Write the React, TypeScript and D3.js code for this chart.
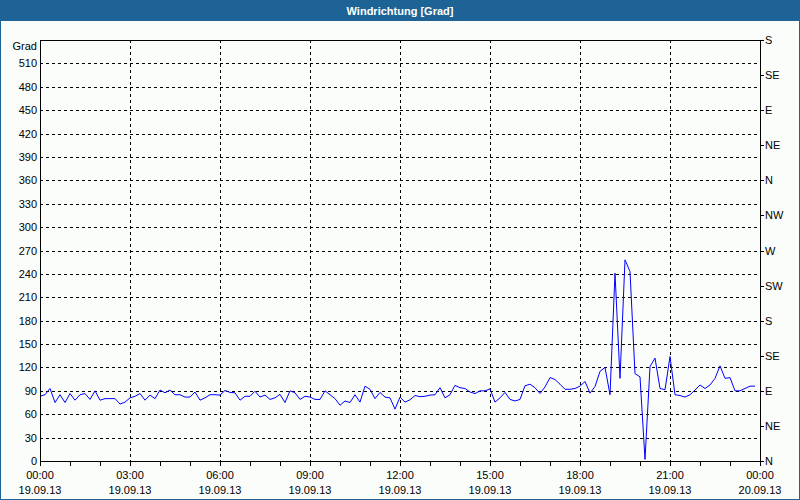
import React from "react";
import * as d3 from "d3";

const title = "Windrichtung [Grad]";
const yUnit = "Grad";
const startTime = new Date(2013, 8, 19, 0, 0);
const endTime = new Date(2013, 8, 20, 0, 0);
const stepMinutes = 10;
// wind direction values every 10 minutes from 19.09.13 00:00
const windDir: number[] = [
  83, 85, 93, 75, 85, 75, 86.5, 78, 85, 86.5,
  79, 90, 78, 80, 80, 80, 73, 75.5, 81, 83,
  86.5, 78, 84.5, 80, 91, 87.5, 91, 85, 85, 82,
  82, 88.5, 78, 81, 85, 85, 84.5, 90.5, 88, 87.5,
  78, 83, 83, 89.5, 82, 84.5, 79, 81, 85.5, 75,
  90, 87.5, 79, 83, 82, 79, 79, 90, 85, 80,
  71.5, 77, 75, 85, 75.5, 96, 92, 80, 88, 82,
  81, 66.5, 82, 75.5, 78.5, 84, 82.5, 83, 84.5, 85,
  94, 81, 85, 97, 94, 93, 88.5, 86.5, 90, 90,
  92.5, 75.5, 81, 88, 79, 77, 79, 96.5, 98.5, 94,
  86.5, 95, 107, 104.5, 98.5, 92, 92, 93, 96, 102,
  87, 95.5, 115, 120, 85, 241, 106, 258, 243, 112,
  108, 2, 121, 132, 93, 91.5, 134, 85, 84, 82,
  85, 91, 97.5, 93, 97.5, 106, 122, 106, 107, 90,
  90, 93, 96, 96,
];
const leftTicks: number[] = [0, 30, 60, 90, 120, 150, 180, 210, 240, 270, 300, 330, 360, 390, 420, 450, 480, 510];
const rightTicks: number[] = [0, 45, 90, 135, 180, 225, 270, 315, 360, 405, 450, 495, 540];
const rightLabels: string[] = ["N", "NE", "E", "SE", "S", "SW", "W", "NW", "N", "NE", "E", "SE", "S"];

const W = 800;
const H = 500;
const M = { left: 40, right: 760, top: 40, bottom: 461 };
const FONT = "'Liberation Sans', Arial, sans-serif";

export default function App() {
  const x = d3.scaleTime().domain([startTime, endTime]).range([M.left, M.right]);
  const y = d3.scaleLinear().domain([0, 540]).range([M.bottom, M.top]);
  const data = windDir.map((v, i) => ({
    t: new Date(startTime.getTime() + i * stepMinutes * 60000),
    v,
  }));
  const line = d3
    .line<{ t: Date; v: number }>()
    .x((d) => x(d.t))
    .y((d) => y(d.v));
  const majorTicks = x.ticks(d3.timeHour.every(3)!);
  const minorTicks = x.ticks(d3.timeHour.every(1)!);
  const fmtTime = d3.timeFormat("%H:%M");
  const fmtDate = d3.timeFormat("%d.%m.%y");
  const bg = "#fbfdfb";
  const frameBlue = "#1e6395";

  return (
    <svg
      width={W}
      height={H}
      style={{ position: "fixed", left: 0, top: 0, display: "block" }}
      fontFamily={FONT}
      fontSize={11}
    >
      <rect x={0} y={0} width={W} height={H} fill={bg} />
      <rect x={0.5} y={0.5} width={W - 1} height={H - 1} fill="none" stroke={frameBlue} />
      <rect x={0} y={0} width={W} height={21} fill={frameBlue} />
      <text x={W / 2} y={11} fill="#fff" fontWeight="bold" textAnchor="middle" dominantBaseline="central">
        {title}
      </text>

      {/* grid */}
      {leftTicks
        .filter((t) => t > 0)
        .map((t) => (
          <line
            key={"hg" + t}
            x1={M.left}
            x2={M.right}
            y1={Math.round(y(t)) + 0.5}
            y2={Math.round(y(t)) + 0.5}
            stroke="#000"
            strokeDasharray="3,3"
            shapeRendering="crispEdges"
          />
        ))}
      {majorTicks
        .filter((t) => t > startTime && t < endTime)
        .map((t) => (
          <line
            key={"vg" + t.getTime()}
            x1={Math.round(x(t)) + 0.5}
            x2={Math.round(x(t)) + 0.5}
            y1={M.top}
            y2={M.bottom}
            stroke="#000"
            strokeDasharray="3,3"
            shapeRendering="crispEdges"
          />
        ))}

      {/* data line */}
      <path d={line(data) || ""} fill="none" stroke="#0000ff" strokeWidth={1} />

      {/* frame */}
      <rect
        x={M.left + 0.5}
        y={M.top + 0.5}
        width={M.right - M.left}
        height={M.bottom - M.top}
        fill="none"
        stroke="#000"
        shapeRendering="crispEdges"
      />

      {/* left axis labels */}
      <text x={37} y={46} textAnchor="end" dominantBaseline="central" fill="#000">
        {yUnit}
      </text>
      {leftTicks.map((t) => (
        <text key={"ll" + t} x={37} y={y(t)} textAnchor="end" dominantBaseline="central" fill="#000">
          {t}
        </text>
      ))}

      {/* right axis */}
      {rightTicks.map((t, i) => (
        <g key={"rl" + t}>
          <line
            x1={M.right}
            x2={M.right + 4}
            y1={Math.round(y(t)) + 0.5}
            y2={Math.round(y(t)) + 0.5}
            stroke="#000"
            shapeRendering="crispEdges"
          />
          <text x={M.right + 5} y={y(t)} dominantBaseline="central" fill="#000">
            {rightLabels[i]}
          </text>
        </g>
      ))}

      {/* bottom axis */}
      {minorTicks.map((t) => (
        <line
          key={"bt" + t.getTime()}
          x1={Math.round(x(t)) + 0.5}
          x2={Math.round(x(t)) + 0.5}
          y1={M.bottom}
          y2={M.bottom + 5}
          stroke="#000"
          shapeRendering="crispEdges"
        />
      ))}
      {majorTicks.map((t) => (
        <g key={"bl" + t.getTime()}>
          <text x={x(t)} y={475} textAnchor="middle" dominantBaseline="central" fill="#000">
            {fmtTime(t)}
          </text>
          <text x={x(t)} y={490} textAnchor="middle" dominantBaseline="central" fill="#000">
            {fmtDate(t)}
          </text>
        </g>
      ))}
    </svg>
  );
}
